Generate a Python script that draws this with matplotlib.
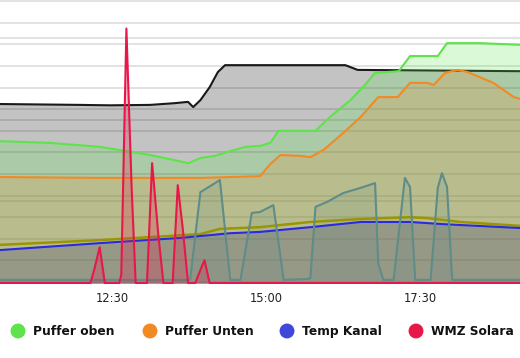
import pandas as pd
import numpy as np
import matplotlib
matplotlib.use("Agg")
import matplotlib.pyplot as plt
import matplotlib.dates as mdates
from matplotlib.transforms import blended_transform_factory

plt.rcParams['font.family'] = ['DejaVu Sans']

DAY = "2024-05-12 "

# Black series (Vorlauf) with grey area, degrees C
black_t = ["10:41", "11:59", "12:28", "13:07", "13:31", "13:44", "13:49", "13:56",
           "14:05", "14:13", "14:20", "16:17", "16:29", "19:07"]
black_v = [41.2, 41.0, 40.9, 41.0, 41.4, 41.7, 40.5, 42.1, 45.1, 48.6, 50.2, 50.2, 49.1, 48.8]

# Puffer oben
green_t = ["10:41", "11:30", "12:18", "13:07", "13:31", "13:44", "13:56", "14:10", "14:25",
           "14:40", "14:54", "15:04", "15:12", "15:48", "16:02", "16:22", "16:36", "16:46",
           "17:09", "17:20", "17:47", "17:56", "18:28", "19:07"]
green_v = [32.6, 32.2, 31.3, 29.4, 28.2, 27.5, 28.7, 29.2, 30.3, 31.3, 31.5, 32.2, 35.0,
           35.0, 38.2, 42.1, 45.6, 48.4, 48.8, 52.3, 52.3, 55.3, 55.3, 54.9]

# Puffer Unten
orange_t = ["10:41", "12:18", "13:56", "14:54", "15:04", "15:14", "15:33", "15:43", "15:56",
            "16:15", "16:32", "16:49", "17:08", "17:20", "17:37", "17:43", "17:54", "18:06",
            "18:16", "18:41", "19:01", "19:07"]
orange_v = [24.3, 24.1, 24.1, 24.5, 27.3, 29.4, 29.2, 28.9, 30.6, 34.5, 38.2, 42.8, 42.8,
            46.1, 46.1, 45.6, 48.4, 49.1, 48.6, 46.1, 42.8, 42.4]

# Temp Kanal
blue_t = ["10:41", "12:18", "13:36", "14:25", "14:54", "15:43", "16:32", "17:20", "17:52", "19:07"]
blue_v = [7.4, 9.0, 10.2, 11.3, 11.6, 12.7, 13.9, 13.9, 13.4, 12.5]

# olive series
olive_t = ["10:41", "12:18", "13:56", "14:15", "14:54", "15:43", "16:32", "17:20", "17:37",
           "18:09", "19:07"]
olive_v = [8.6, 9.7, 11.1, 12.3, 12.7, 13.9, 14.6, 15.0, 14.8, 13.9, 13.0]

# collector / pump series
teal_t = ["10:41", "13:46", "13:56", "14:15", "14:25", "14:35", "14:46", "14:54", "15:07",
          "15:17", "15:40", "15:43", "15:48", "15:59", "16:15", "16:32", "16:46", "16:49",
          "16:54", "17:04", "17:15", "17:20", "17:25", "17:40", "17:47", "17:51", "17:56",
          "18:01", "19:07"]
teal_v = [0.5, 0.5, 20.8, 23.6, 0.5, 0.5, 16.0, 16.2, 17.8, 0.5, 0.7, 0.9, 17.4, 18.5,
          20.6, 21.8, 22.9, 4.4, 0.5, 0.5, 24.1, 22.0, 0.5, 0.5, 21.8, 25.2, 22.0, 0.5, 0.5]

# WMZ Solaranlage, kW (secondary axis)
red_t = ["10:41", "12:09", "12:13", "12:18", "12:23", "12:37", "12:39", "12:44", "12:49",
         "12:53", "13:04", "13:09", "13:15", "13:20", "13:29", "13:34", "13:39", "13:44",
         "13:51", "13:56", "14:00", "14:05", "19:07"]
red_v = [0, 0, 0.18, 0.44, 0, 0, 0.1, 3.12, 1.2, 0, 0, 1.47, 0.6, 0, 0, 1.2, 0.65, 0,
         0, 0.16, 0.28, 0, 0]

tick_times = ["12:30", "15:00", "17:30"]
temp_grid = list(range(0, 70, 5))
kw_grid = [0, 1, 2, 3]

# last label is cut by the right edge of the screenshot
legend_labels = ["Puffer oben", "Puffer Unten", "Temp Kanal", "WMZ Solara"]
legend_colors = ["#5ee34a", "#f28a24", "#4048dc", "#e8174a"]


def tt(lst):
    return pd.to_datetime([DAY + t for t in lst])


fig = plt.figure(figsize=(5.2, 3.58), dpi=100)
ax = fig.add_axes([0, 0.208, 1, 0.792])
ax2 = ax.twinx()

ax.set_xlim(tt(["10:41"])[0], tt(["19:07"])[0])
ax.set_ylim(-0.35, 65.28)
ax2.set_ylim(-0.006, 3.47)

# grid lines (both axes drawn behind the series)
ax.hlines(temp_grid, 0, 1, transform=blended_transform_factory(ax.transAxes, ax.transData),
          colors="#dadada", lw=1.1, zorder=0)
ax.hlines(kw_grid, 0, 1, transform=blended_transform_factory(ax.transAxes, ax2.transData),
          colors="#dadada", lw=1.1, zorder=0)

lw = 1.5
base = -0.35

x = tt(black_t)
ax.fill_between(x, base, black_v, color=(0, 0, 0, 0.235), lw=0, zorder=1)
ax.plot(x, black_v, color="#1a1a1a", lw=lw, zorder=2)

x = tt(green_t)
ax.fill_between(x, base, green_v, color=(90/255, 230/255, 70/255, 0.22), lw=0, zorder=3)
ax.plot(x, green_v, color="#5ee34a", lw=lw, zorder=4)

x = tt(orange_t)
ax.fill_between(x, base, orange_v, color=(245/255, 140/255, 40/255, 0.2), lw=0, zorder=5)
ax.plot(x, orange_v, color="#f28a24", lw=lw, zorder=6)

x = tt(blue_t)
ax.fill_between(x, base, blue_v, color=(70/255, 70/255, 120/255, 0.3), lw=0, zorder=7)

x = tt(teal_t)
ax.fill_between(x, base, teal_v, color=(95/255, 138/255, 134/255, 0.15), lw=0, zorder=8)

ax.plot(tt(olive_t), olive_v, color="#9a9500", lw=lw + 0.3, zorder=9)
ax.plot(tt(blue_t), blue_v, color="#2a2ae0", lw=lw, zorder=10)
ax.plot(x, teal_v, color="#5e8c88", lw=lw, zorder=11)

x = tt(red_t)
ax2.fill_between(x, -0.006, red_v, color=(232/255, 23/255, 74/255, 0.25), lw=0)
ax2.plot(x, red_v, color="#e8174a", lw=lw)

for a in (ax, ax2):
    for s in a.spines.values():
        s.set_visible(False)
ax2.set_yticks([])
ax.set_yticks([])
ax.set_xticks(tt(tick_times))
ax.xaxis.set_major_formatter(mdates.DateFormatter("%H:%M"))
ax.tick_params(axis="x", length=0, pad=6, labelsize=8.3, labelcolor="#222222")

# legend drawn in pixel coordinates
lg = fig.add_axes([0, 0, 1, 1], facecolor="none")
lg.set_xlim(0, 520)
lg.set_ylim(358, 0)
lg.axis("off")
lx = [18, 150, 287, 416]
for px, lab, c in zip(lx, legend_labels, legend_colors):
    lg.scatter([px], [331], s=115, color=c, edgecolors="none")
    lg.text(px + 15, 331.5, lab, fontsize=8.8, fontweight="bold", va="center", ha="left",
            color="#111111")

fig.savefig("out.png", dpi=100)
